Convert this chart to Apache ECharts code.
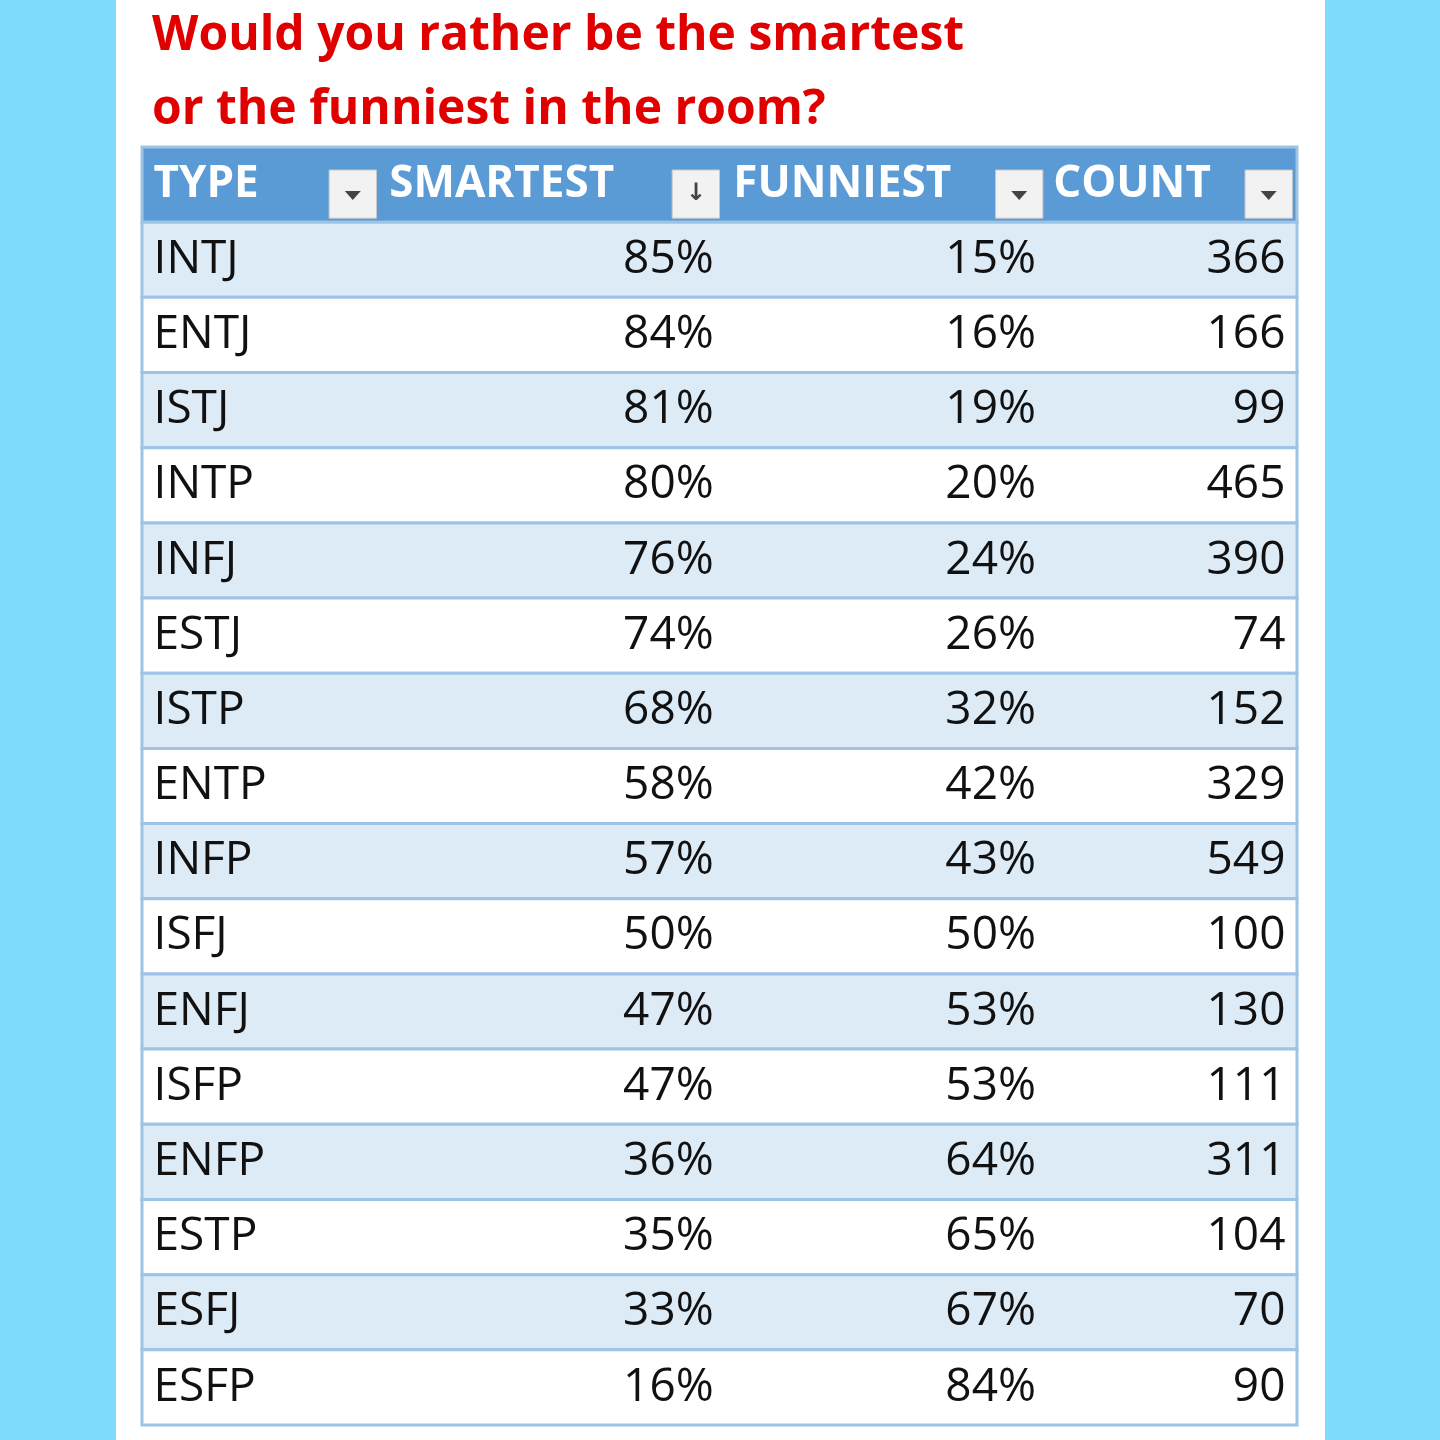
<!DOCTYPE html>
<html><head><meta charset="utf-8">
<script src="https://cdn.jsdelivr.net/npm/echarts@6/dist/echarts.min.js"></script>
<style>html,body{margin:0;padding:0;background:#7fdcfb}#c{width:1440px;height:1440px}</style>
</head><body><div id="c"></div>
<script>
const titleLines = ["Would you rather be the smartest", "or the funniest in the room?"];
const headers = ["TYPE", "SMARTEST", "FUNNIEST", "COUNT"];
const types = ["INTJ","ENTJ","ISTJ","INTP","INFJ","ESTJ","ISTP","ENTP","INFP","ISFJ","ENFJ","ISFP","ENFP","ESTP","ESFJ","ESFP"];
const smartest = [85,84,81,80,76,74,68,58,57,50,47,47,36,35,33,16];
const funniest = [15,16,19,20,24,26,32,42,43,50,53,53,64,65,67,84];
const counts = [366,166,99,465,390,74,152,329,549,100,130,111,311,104,70,90];

const rows = ["HEADER"].concat(types);
const FONT = "'Open Sans', 'Noto Sans', sans-serif";
// column layout as fractions of table width
const textLeft = [0.010, 0.214, 0.512, 0.789];
const valRight = [null, 0.495, 0.774, 0.990];
const btnLeft = [0.162, 0.459, 0.739, 0.955];
const btnW = 0.041;

function renderItem(params, api) {
  const i = api.value(0);
  const cs = params.coordSys;
  const c = api.coord([0, i]);
  const bh = api.size([0, 1])[1];
  const top = c[1] - bh / 2;
  const X = f => cs.x + f * cs.width;
  const children = [];
  if (i === 0) {
    children.push({type:'rect', shape:{x:cs.x, y:top, width:cs.width, height:bh}, style:{fill:'#5b9bd5', stroke:'#9dc3e6', lineWidth:3}});
    headers.forEach((h, k) => {
      children.push({type:'text', style:{text:h, x:X(textLeft[k]), y:c[1], fill:'#fff', font:'bold 44px ' + FONT, verticalAlign:'middle', align:'left'}});
      const bx = X(btnLeft[k]), bw = btnW * cs.width, by = top + 23, bhh = bh - 27;
      children.push({type:'rect', shape:{x:bx, y:by, width:bw, height:bhh}, style:{fill:'#f2f2f2', stroke:'#c8c8c8', lineWidth:1}});
      const cx = bx + bw / 2, cy = by + bhh / 2;
      if (k === 1) {
        children.push({type:'text', style:{text:'↓', x:cx, y:cy, fill:'#444', font:'bold 24px DejaVu Sans', align:'center', verticalAlign:'middle'}});
      } else {
        children.push({type:'polygon', shape:{points:[[cx-8,cy-3],[cx+8,cy-3],[cx,cy+6]]}, style:{fill:'#444'}});
      }
    });
  } else {
    const fill = (i % 2 === 1) ? '#ddebf7' : '#ffffff';
    children.push({type:'rect', shape:{x:cs.x, y:top, width:cs.width, height:bh}, style:{fill:fill, stroke:'#9dc3e6', lineWidth:3}});
    const r = i - 1;
    const font = '46px ' + FONT;
    children.push({type:'text', style:{text:types[r], x:X(textLeft[0]), y:c[1], fill:'#111', font:font, verticalAlign:'middle', align:'left'}});
    children.push({type:'text', style:{text:smartest[r] + '%', x:X(valRight[1]), y:c[1], fill:'#111', font:font, verticalAlign:'middle', align:'right'}});
    children.push({type:'text', style:{text:funniest[r] + '%', x:X(valRight[2]), y:c[1], fill:'#111', font:font, verticalAlign:'middle', align:'right'}});
    children.push({type:'text', style:{text:String(counts[r]), x:X(valRight[3]), y:c[1], fill:'#111', font:font, verticalAlign:'middle', align:'right'}});
  }
  return {type:'group', children};
}

const chart = echarts.init(document.getElementById('c'));
chart.setOption({
  backgroundColor:'#7fdcfb',
  animation:false,
  graphic:[
    {type:'rect', left:116, top:0, shape:{width:1209, height:1440}, style:{fill:'#fff'}, z:-10},
    {type:'text', left:152, top:12, style:{text:titleLines[0], fill:'#e00000', font:'bold 48px ' + FONT}},
    {type:'text', left:152, top:86, style:{text:titleLines[1], fill:'#e00000', font:'bold 48px ' + FONT}}
  ],
  grid:{left:142, right:143, top:147, bottom:15},
  xAxis:{type:'value', min:0, max:1, show:false},
  yAxis:{type:'category', data:rows, inverse:true, show:false},
  series:[{type:'custom', renderItem, data:rows.map((r, i) => [i]), encode:{y:0}, clip:false}]
});
</script></body></html>
